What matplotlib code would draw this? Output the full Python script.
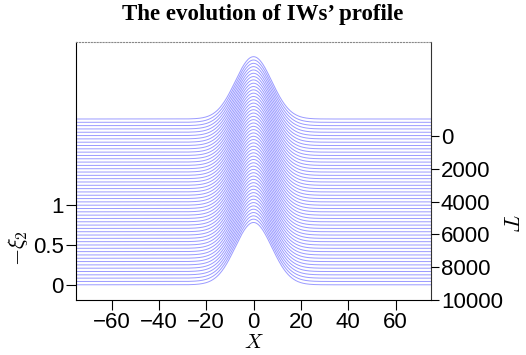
import numpy as np
import matplotlib.pyplot as plt

# time levels of the stacked profiles (T axis, 0 on top)
t_levels = list(range(0, 10001, 200))
# profile: a narrow bell-shaped hump
amplitude = 0.78      # peak height of every profile
sigma = 7.7           # x-scale of the hump
offset_per_step = 0.0415  # vertical spacing between successive profiles

x_ticks = [-60, -40, -20, 0, 20, 40, 60]
left_ticks = [0, 0.5, 1]
right_ticks = [0, 2000, 4000, 6000, 8000, 10000]

plt.rcParams['font.family'] = ['Liberation Sans', 'DejaVu Sans']
plt.rcParams['mathtext.fontset'] = 'cm'

fig = plt.figure(figsize=(5.26, 3.55), dpi=100)
ax = fig.add_axes([0.1445, 0.155, 0.675, 0.727])

x = np.linspace(-75, 75, 600)
n = len(t_levels)
for i, t in enumerate(t_levels):
    base = (n - 1 - i) * offset_per_step
    y = base + amplitude * np.exp(-x ** 2 / (2 * sigma ** 2))
    ax.plot(x, y, color='#8f8fff', lw=0.7, alpha=0.9)

ax.set_xlim(-75, 75)
ax.set_ylim(-0.19, 3.04)
ax.set_xticks(x_ticks)
ax.set_xticklabels([str(v).replace('-', '\u2212') for v in x_ticks])
ax.set_yticks(left_ticks)
ax.set_yticklabels(['0', '0.5', '1'])
ax.tick_params(direction='out', length=7, width=0.8, labelsize=16, pad=2)
ax.tick_params(axis='x', pad=1.5)
ax.spines['top'].set_color('#888888')
ax.spines['top'].set_linestyle(':')
ax.spines['right'].set_color('#333333')
ax.set_xlabel(r'$X$', fontsize=15, labelpad=0)
ax.set_ylabel(r'$-\xi_2$', fontsize=16, labelpad=2, y=0.2)

ax2 = ax.twinx()
ax2.set_ylim(10000, -5732)
ax2.set_yticks(right_ticks)
ax2.tick_params(direction='out', length=6, width=0.8, labelsize=16, pad=1)
for s in ax2.spines.values():
    s.set_visible(False)
ax2.set_ylabel(r'$T$', fontsize=16, rotation=270, labelpad=12, y=0.3)

fig.suptitle("The evolution of IWs\u2019 profile", fontsize=16.5, fontweight='bold',
             family='Liberation Serif', y=0.99)

fig.savefig('out.png', dpi=100)
